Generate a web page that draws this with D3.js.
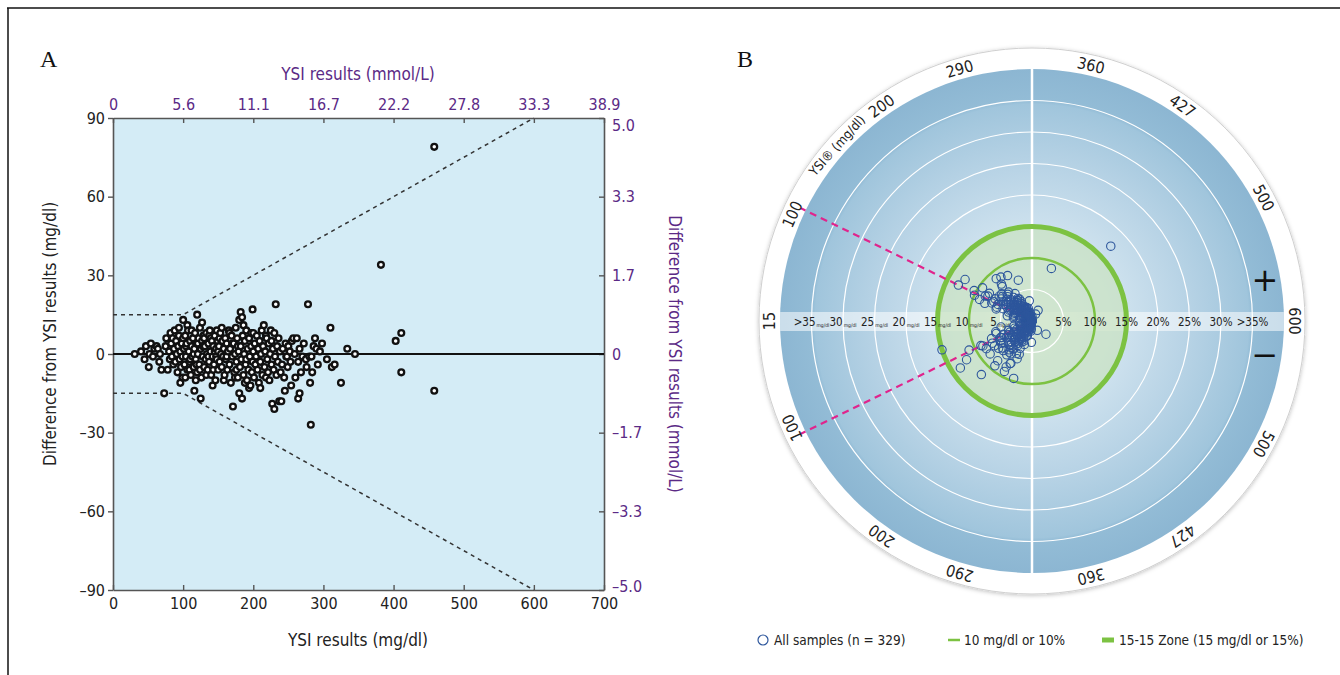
<!DOCTYPE html>
<html>
<head>
<meta charset="utf-8">
<script src="https://cdn.jsdelivr.net/npm/d3@7"></script>
<style>
  body { margin: 0; background: #fff; }
  svg { display: block; }
  text { font-family: "Liberation Sans Narrow", "Arial Narrow", "DejaVu Sans Condensed", sans-serif; }
</style>
</head>
<body>
<svg id="chart" width="1340" height="675"></svg>
<script>
// ---- panel A data: [YSI mg/dl, difference mg/dl] ----
const samples = [
  [31,0],[40,1],[45,-2],[47,3],[51,-5],[52,0],[54,4],[57,-1],[59,2],[62,3],[64,2],[66,-3],[67,0],[69,-6],
  [73,-15],[75,3],[76,6],[78,-6],[80,1],[81,-2],[82,8],[83,4],[84,-1],[85,6],[86,-4],[87,2],[88,9],[89,-3],
  [90,5],[91,0],[92,-7],[93,3],[94,7],[94,10],[95,-2],[96,1],[96,-11],[97,-5],[98,4],[99,-1],[99,-9],[100,13],[100,6],
  [101,2],[102,-4],[103,7],[103,-9],[104,-1],[104,3],[105,4],[106,-6],[106,11],[107,9],[108,1],[109,-3],[109,-6],
  [110,5],[110,-2],[111,-8],[112,3],[112,9],[113,-1],[114,6],[115,-5],[115,0],[116,-14],[116,2],[117,8],[118,-2],
  [118,-10],[119,4],[119,-4],[120,15],[120,-7],[121,0],[121,4],[122,6],[123,-4],[124,10],[124,-6],[125,-17],[125,2],
  [126,-9],[127,5],[127,12],[128,-1],[128,3],[129,7],[130,-5],[130,6],[131,3],[132,-2],[133,8],[133,-8],[134,0],
  [135,-6],[136,4],[136,-1],[137,-3],[137,7],[138,9],[139,1],[139,6],[140,-8],[141,5],[142,-1],[142,-12],[143,3],
  [143,-6],[144,-4],[145,7],[145,1],[146,-10],[147,2],[147,-1],[148,-2],[148,9],[149,5],[150,-6],[150,1],
  [151,3],[152,-3],[152,6],[153,8],[154,0],[155,-5],[155,10],[156,5],[157,-1],[158,2],[158,-10],[159,-8],[160,6],
  [161,-2],[162,4],[162,-1],[163,-6],[164,1],[165,9],[166,-4],[166,8],[167,2],[168,-11],[169,7],[170,-1],[170,4],
  [171,-20],[172,4],[173,-7],[174,0],[174,-9],[175,10],[176,-3],[176,-6],[177,6],[178,-9],[178,3],[179,1],[180,-15],
  [180,13],[181,-5],[182,16],[182,3],[183,-2],[184,14],[184,-17],[185,7],[186,-8],[186,11],[187,0],[188,5],[188,-11],
  [189,-4],[190,9],[190,-2],[191,-10],[192,2],[193,-6],[194,6],[194,-13],[195,-1],[196,-12],[197,3],[197,8],[198,-7],
  [199,17],[199,-3],[200,8],[200,1],
  [201,-9],[202,4],[203,-4],[204,-1],[205,7],[206,-6],[207,2],[208,-11],[209,5],[210,-3],[210,-13],[211,0],[212,9],
  [213,-8],[214,3],[215,11],[216,-5],[217,1],[218,-9],[218,7],[219,6],[220,-2],[221,-7],[222,4],[223,-10],[224,0],
  [225,9],[226,-4],[226,5],[227,-19],[228,2],[229,-6],[230,8],[230,-21],[231,-1],[232,19],[233,-8],[234,3],[235,-3],
  [236,6],[237,-18],[238,1],[239,-7],[240,-18],[241,-4],[242,2],[244,-9],[245,-14],[246,4],[247,-1],[248,-1],[249,-5],
  [250,3],[252,1],[253,-3],[254,-12],[255,5],[257,6],[259,0],[260,-9],[262,6],[264,-3],[264,-17],[266,2],[266,-15],
  [268,-7],[270,-1],[272,4],[275,-2],[276,-5],[278,19],[280,-1],[281,-11],[282,-27],[283,-1],[284,-7],[286,3],[288,6],
  [290,2],[292,-4],[295,1],[298,4],
  [305,-2],[310,10],[312,-5],[316,-4],[325,-11],[334,2],[345,0],
  [382,34],[403,5],[411,8],[411,-7],[458,79],[458,-14]
];
const xTicks = [0, 100, 200, 300, 400, 500, 600, 700];
const mmolXLabels = ["0", "5.6", "11.1", "16.7", "22.2", "27.8", "33.3", "38.9"];
const yTicks = [-90, -60, -30, 0, 30, 60, 90];
const mmolYLabels = ["–5.0", "–3.3", "–1.7", "0", "1.7", "3.3", "5.0"];
const upperLimit = [[0, 15], [100, 15], [600, 90]];
const lowerLimit = [[0, -15], [100, -15], [600, -90]];

// ---- panel B data ----
const ringValues = [15, 100, 200, 290, 360, 427, 500, 600];
const ringLowerValues = [100, 200, 290, 360, 427, 500];
const bandSteps = [5, 10, 15, 20, 25, 30, 35];
const bandLeftLabels = ["5", "10", "15", "20", "25", "30", ">35"];
const bandRightLabels = ["5%", "10%", "15%", "20%", "25%", "30%", ">35%"];
const legendLabels = ["All samples (n = 329)", "10 mg/dl or 10%", "15-15 Zone (15 mg/dl or 15%)"];

const svg = d3.select("#chart");
const purple = "#5b2a86";
const ink = "#222";

// outer frame lines
svg.append("line").attr("x1", 7).attr("x2", 1340).attr("y1", 8).attr("y2", 8).attr("stroke", "#111").attr("stroke-width", 1.5);
svg.append("line").attr("x1", 8).attr("x2", 8).attr("y1", 8).attr("y2", 675).attr("stroke", "#111").attr("stroke-width", 1.5);

// ================= Panel A =================
const x = d3.scaleLinear().domain([0, 700]).range([113, 604]);
const y = d3.scaleLinear().domain([-90, 90]).range([590, 118]);
const yMmol = d3.scaleLinear().domain([-5, 5]).range([590, 118]);

const gA = svg.append("g");
gA.append("rect")
  .attr("x", x(0)).attr("y", y(90))
  .attr("width", x(700) - x(0)).attr("height", y(-90) - y(90))
  .attr("fill", "#d4ecf6");

svg.append("text").attr("x", 40).attr("y", 67).text("A")
  .style("font-family", "'Liberation Serif', 'DejaVu Serif', serif").style("font-size", "24px").attr("fill", "#111");

const dash = d => (d < 0 ? "–" + (-d) : d);

const styleAxis = (g, color) => {
  g.select(".domain").attr("stroke", "#555").attr("stroke-width", 1.6);
  g.selectAll(".tick line").attr("stroke", "#555").attr("stroke-width", 1.4);
  g.selectAll(".tick text").attr("fill", color).style("font-size", "16px");
};

gA.append("g").attr("transform", `translate(${x(0)},0)`)
  .call(d3.axisLeft(y).tickValues(yTicks).tickSize(5).tickSizeOuter(0).tickPadding(3).tickFormat(dash))
  .call(g => styleAxis(g, ink));

gA.append("g").attr("transform", `translate(0,${y(-90)})`)
  .call(d3.axisBottom(x).tickValues(xTicks).tickSizeInner(-5).tickSizeOuter(0).tickPadding(8))
  .call(g => styleAxis(g, ink));

gA.append("g").attr("transform", `translate(0,${y(90)})`)
  .call(d3.axisTop(x).tickValues(xTicks).tickSizeInner(-5).tickSizeOuter(0).tickPadding(8)
    .tickFormat((d, i) => mmolXLabels[i]))
  .call(g => styleAxis(g, purple));

gA.append("g").attr("transform", `translate(${x(700)},0)`)
  .call(d3.axisRight(yMmol).tickValues(yTicks.map(v => v / 18)).tickSizeInner(-5).tickSizeOuter(0).tickPadding(8)
    .tickFormat((d, i) => mmolYLabels[i]))
  .call(g => styleAxis(g, purple))
  .call(g => {
    // end labels sit slightly inside the axis ends
    g.selectAll(".tick text").filter((d, i) => i === 0).attr("y", -4);
    g.selectAll(".tick text").filter((d, i) => i === yTicks.length - 1).attr("y", 7);
  });

// axis titles
gA.append("text").attr("x", 358).attr("y", 80).attr("text-anchor", "middle")
  .attr("fill", purple).style("font-size", "17px").text("YSI results (mmol/L)");
gA.append("text").attr("x", 358).attr("y", 646).attr("text-anchor", "middle")
  .attr("fill", ink).style("font-size", "17px").text("YSI results (mg/dl)");
gA.append("text").attr("transform", "translate(56,334) rotate(-90)").attr("text-anchor", "middle")
  .attr("fill", ink).style("font-size", "17px").text("Difference from YSI results (mg/dl)");
gA.append("text").attr("transform", "translate(669,354) rotate(90)").attr("text-anchor", "middle")
  .attr("fill", purple).style("font-size", "17px").text("Difference from YSI results (mmol/L)");

// limit lines
const limitLine = d3.line().x(d => x(d[0])).y(d => y(d[1]));
[upperLimit, lowerLimit].forEach(l => {
  gA.append("path").attr("d", limitLine(l)).attr("fill", "none")
    .attr("stroke", "#333").attr("stroke-width", 1.5).attr("stroke-dasharray", "4,4");
});

// zero line
gA.append("line").attr("x1", x(0)).attr("x2", x(700)).attr("y1", y(0)).attr("y2", y(0))
  .attr("stroke", "#111").attr("stroke-width", 2.2);

gA.append("g").selectAll("circle").data(samples).join("circle")
  .attr("cx", d => x(d[0])).attr("cy", d => y(d[1])).attr("r", 2.9)
  .attr("fill", "#fff").attr("stroke", "#111").attr("stroke-width", 2.3);

// ================= Panel B =================
const cx = 1032, cy = 321;
const diskR = 252, ringR = 273;
const radial = d3.scaleLinear().domain([0, 35]).range([0, 220.5]);
// YSI value -> angle (degrees clockwise from top), upper half
const angle = d3.scaleLinear().domain(ringValues).range([-90, -64, -35, -16, 13, 35, 62, 90]);
const polar = (deg, r) => {
  const a = deg * Math.PI / 180;
  return [cx + r * Math.sin(a), cy - r * Math.cos(a)];
};

svg.append("text").attr("x", 737).attr("y", 67).text("B")
  .style("font-family", "'Liberation Serif', 'DejaVu Serif', serif").style("font-size", "24px").attr("fill", "#111");

const defs = svg.append("defs");
const grad = defs.append("radialGradient").attr("id", "diskGrad");
[[0, "#e6f0f7"], [0.3, "#d3e5f0"], [0.6, "#b9d4e6"], [0.86, "#a0c5dc"], [0.875, "#93bcd6"], [1, "#8cb6d2"]]
  .forEach(([o, c]) => grad.append("stop").attr("offset", o).attr("stop-color", c));
const shadow = defs.append("filter").attr("id", "ringShadow").attr("x", "-10%").attr("y", "-10%").attr("width", "120%").attr("height", "120%");
shadow.append("feDropShadow").attr("dx", 0).attr("dy", 1).attr("stdDeviation", 2).attr("flood-color", "#000").attr("flood-opacity", 0.25);
defs.append("clipPath").attr("id", "diskClip").append("circle").attr("cx", cx).attr("cy", cy).attr("r", diskR);

const gB = svg.append("g");
gB.append("circle").attr("cx", cx).attr("cy", cy).attr("r", ringR)
  .attr("fill", "#fff").attr("stroke", "#d0d0d0").attr("stroke-width", 1).attr("filter", "url(#ringShadow)");
gB.append("circle").attr("cx", cx).attr("cy", cy).attr("r", diskR).attr("fill", "url(#diskGrad)");

// horizontal label band
gB.append("rect").attr("clip-path", "url(#diskClip)")
  .attr("x", cx - diskR).attr("y", cy - 9).attr("width", diskR * 2).attr("height", 19)
  .attr("fill", "#fff").attr("opacity", 0.55);

// 15-15 zone fill
gB.append("circle").attr("cx", cx).attr("cy", cy).attr("r", radial(15))
  .attr("fill", "#c9e2c0").attr("opacity", 0.72);

// reference circles
gB.append("g").selectAll("circle").data(bandSteps.filter(s => s !== 10 && s !== 15)).join("circle")
  .attr("cx", cx).attr("cy", cy).attr("r", d => radial(d))
  .attr("fill", "none").attr("stroke", "#fff").attr("stroke-width", 1.2);
gB.append("line").attr("x1", cx).attr("x2", cx).attr("y1", cy - diskR).attr("y2", cy + diskR)
  .attr("stroke", "#fff").attr("stroke-width", 2.5);
gB.append("circle").attr("cx", cx).attr("cy", cy).attr("r", radial(10))
  .attr("fill", "none").attr("stroke", "#7cc242").attr("stroke-width", 2.5);
gB.append("circle").attr("cx", cx).attr("cy", cy).attr("r", radial(15))
  .attr("fill", "none").attr("stroke", "#7cc242").attr("stroke-width", 5);

// band labels
const bandG = gB.append("g").attr("fill", ink);
bandSteps.forEach((s, i) => {
  const t = bandG.append("text").attr("x", cx - radial(s)).attr("y", cy + 5).attr("text-anchor", "middle")
    .style("font-size", "11.5px");
  t.append("tspan").text(bandLeftLabels[i]);
  t.append("tspan").text("mg/dl").attr("dx", 1).attr("dy", 1).style("font-size", "5px");
  bandG.append("text").attr("x", cx + radial(s)).attr("y", cy + 5).attr("text-anchor", "middle")
    .style("font-size", "11.5px").text(bandRightLabels[i]);
});

// magenta 100 mg/dl boundaries
[angle(100), 180 - angle(100)].forEach(a => {
  const [x2, y2] = polar(a, diskR + 5);
  gB.append("line").attr("x1", cx).attr("y1", cy).attr("x2", x2).attr("y2", y2)
    .attr("stroke", "#e0248c").attr("stroke-width", 2.2).attr("stroke-dasharray", "7,5");
});

// ring labels
const ringText = (deg, label, size) => {
  gB.append("text")
    .attr("transform", `translate(${cx},${cy}) rotate(${deg}) translate(0,${-(diskR + ringR) / 2})`)
    .attr("text-anchor", "middle").attr("dy", "0.36em")
    .attr("fill", ink).style("font-size", size).text(label);
};
ringValues.forEach(v => ringText(v === 100 ? angle(v) - 2 : angle(v), v, "16px"));
ringLowerValues.forEach(v => ringText(180 - angle(v) + (v === 100 ? 2 : 0), v, "16px"));
ringText(-48, "YSI® (mg/dl)", "13px");

// plus / minus
gB.append("text").attr("x", 1265).attr("y", 291).attr("text-anchor", "middle")
  .style("font-family", "'DejaVu Sans', sans-serif").style("font-size", "32px").attr("fill", "#111").text("+");
gB.append("text").attr("x", 1265).attr("y", 366).attr("text-anchor", "middle")
  .style("font-family", "'DejaVu Sans', sans-serif").style("font-size", "32px").attr("fill", "#111").text("−");

// samples in polar form
const polarPts = samples.map(([v, d]) => {
  const dev = v < 100 ? Math.abs(d) : Math.abs(d) / v * 100;
  const a = d < 0 ? 180 - angle(Math.max(v, 15)) : angle(Math.max(v, 15));
  return polar(a, radial(Math.min(dev, 37)));
});
gB.append("g").selectAll("circle").data(polarPts).join("circle")
  .attr("cx", d => d[0]).attr("cy", d => d[1]).attr("r", 4.2)
  .attr("fill", "none").attr("stroke", "#2d569c").attr("stroke-width", 1.1);

// legend
const lg = svg.append("g").style("font-size", "13.5px").attr("fill", ink);
lg.append("circle").attr("cx", 763).attr("cy", 640).attr("r", 5).attr("fill", "none").attr("stroke", "#2d569c").attr("stroke-width", 1.2);
lg.append("text").attr("x", 774).attr("y", 645).text(legendLabels[0]);
lg.append("line").attr("x1", 948).attr("x2", 960).attr("y1", 640).attr("y2", 640).attr("stroke", "#7cc242").attr("stroke-width", 2.5);
lg.append("text").attr("x", 964).attr("y", 645).text(legendLabels[1]);
lg.append("line").attr("x1", 1102).attr("x2", 1114).attr("y1", 640).attr("y2", 640).attr("stroke", "#7cc242").attr("stroke-width", 5);
lg.append("text").attr("x", 1119).attr("y", 645).text(legendLabels[2]);
</script>
</body>
</html>
